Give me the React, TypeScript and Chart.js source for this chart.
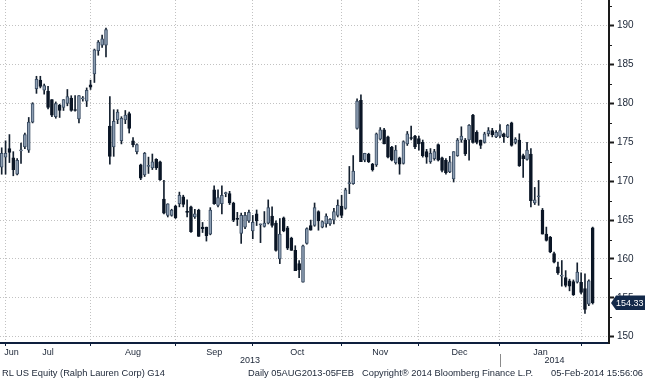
import React, { useEffect, useRef } from "react";
import { Chart, registerables } from "chart.js";
Chart.register(...registerables);

// Daily OHLC (trading-day index order)
const opens = [
  171.8,173.1,174.2,173.0,170.9,173.9,174.4,174.0,177.6,181.9,183.0,181.7,181.6,180.5,178.3,179.8,179.5,180.0,180.7,179.2,178.0,180.6,180.3,182.4,183.8,186.8,187.5,187.5,
  177.1,174.4,177.9,175.2,177.9,178.7,175.2,173.8,172.1,170.8,171.9,171.7,172.8,172.5,167.7,165.6,165.6,166.8,167.1,168.0,166.1,166.7,165.4,166.3,164.1,164.1,
  163.2,168.9,166.9,167.1,168.4,168.4,167.2,165.2,163.3,164.1,164.9,163.6,165.8,164.4,164.2,164.6,165.5,164.6,160.0,165.3,164.0,162.7,161.1,159.4,157.0,162.0,
  164.3,164.3,166.1,164.1,164.5,164.5,165.0,165.6,166.8,166.5,169.7,169.7,176.8,180.4,172.7,173.5,172.2,172.1,175.4,176.6,175.7,174.4,172.4,173.0,172.3,174.8,
  175.6,175.8,175.5,175.0,173.8,172.5,172.9,174.7,173.0,172.7,171.2,170.3,173.3,175.3,175.3,175.3,178.5,176.3,175.3,175.0,176.1,176.5,175.7,175.8,176.1,175.7,
  177.5,175.0,175.3,173.3,172.8,173.5,167.2,168.0,166.3,163.2,162.8,160.7,159.0,157.8,157.6,157.2,157.1,157.0,157.0,156.2,154.2,164.0
];
const highs = [
  174.3,175.2,176.0,173.8,172.9,174.9,176.2,178.2,180.1,183.5,183.5,182.5,182.2,180.5,180.2,179.9,180.5,181.8,181.0,181.0,181.0,180.9,182.0,183.0,187.0,188.1,188.8,189.7,
  180.9,179.2,179.2,178.3,179.1,178.9,175.6,174.8,172.2,173.7,173.1,173.5,172.9,172.6,170.1,167.1,166.4,166.9,168.6,168.2,167.6,166.8,166.4,166.4,164.7,164.1,
  166.6,169.4,168.9,169.4,168.6,168.7,167.3,166.0,165.9,166.0,166.3,165.6,166.3,164.5,166.1,167.6,166.7,164.9,165.2,165.4,164.2,162.8,161.7,159.8,161.8,164.0,
  165.0,167.2,166.2,164.9,165.8,165.2,166.5,167.6,168.2,169.1,171.9,173.3,180.6,181.1,173.6,173.6,172.3,176.2,176.9,176.8,175.8,174.5,174.6,173.1,175.2,176.4,
  177.1,175.9,175.8,175.3,174.1,174.2,174.1,174.8,173.1,172.9,173.2,173.8,175.5,177.0,175.5,177.3,178.6,176.5,175.3,176.3,176.9,176.8,176.5,177.3,176.2,177.3,
  177.6,175.6,176.1,173.5,175.0,174.2,169.2,170.1,166.5,164.1,162.9,160.9,159.6,159.8,158.5,157.4,157.3,159.5,158.2,158.1,157.3,164.1
];
const lows = [
  170.9,170.9,172.4,170.7,170.8,172.3,174.2,173.7,177.5,181.3,182.0,181.2,179.3,178.3,178.1,178.2,179.1,179.7,179.0,179.0,177.5,180.3,179.6,181.8,182.7,186.2,187.2,186.0,
  172.2,173.2,177.4,174.8,177.4,176.2,174.4,173.5,170.2,170.6,171.0,171.5,171.5,170.1,165.8,165.4,165.5,165.2,166.7,166.7,165.4,163.4,165.2,162.9,163.4,162.3,
  163.1,167.0,166.7,165.8,168.0,167.0,164.8,164.3,162.0,163.9,164.7,162.6,164.3,162.1,164.1,164.5,164.1,161.0,159.4,163.5,161.2,161.1,158.5,157.6,157.0,161.9,
  163.7,164.2,163.7,164.0,164.1,164.3,164.5,165.4,165.3,166.4,168.4,169.6,176.7,172.5,172.5,172.4,171.3,171.9,175.3,174.8,173.0,172.6,172.2,170.9,172.2,174.6,
  175.3,174.2,174.0,173.1,172.3,172.3,172.7,172.6,171.2,170.9,171.1,169.9,173.2,175.0,173.3,172.7,174.9,174.8,174.2,174.9,175.8,175.7,175.6,175.6,175.0,175.6,
  174.5,174.8,171.9,170.5,172.7,166.7,167.0,166.9,163.2,162.3,160.8,159.5,158.0,156.5,156.4,155.9,155.3,156.9,155.5,153.0,154.0,154.2
];
const closes = [
  173.6,173.6,173.7,171.5,172.7,174.0,176.0,177.6,180.0,183.1,182.2,182.3,179.5,178.5,180.0,179.1,180.5,180.9,179.1,179.1,181.0,180.7,181.7,182.1,186.9,187.9,188.3,189.5,
  173.2,177.7,178.9,178.1,178.5,176.8,174.7,174.7,170.4,173.6,171.9,172.5,171.7,170.2,165.9,167.1,166.3,165.3,168.2,167.0,166.0,163.5,165.8,162.9,163.9,163.0,
  166.3,167.1,167.9,168.2,168.4,167.2,165.0,165.1,165.6,165.6,166.0,164.7,164.9,164.4,164.6,166.6,164.3,161.1,163.2,163.6,161.4,161.1,158.5,158.6,161.7,163.9,
  163.7,166.6,164.9,164.8,165.5,165.1,166.1,166.9,165.6,168.9,169.8,171.3,180.3,172.5,173.6,172.5,171.5,176.1,176.6,174.8,173.1,172.7,174.0,172.2,175.1,176.1,
  175.5,174.4,174.8,173.3,173.1,173.6,173.8,172.7,171.4,171.1,172.5,173.8,175.3,175.8,173.5,177.2,175.0,175.0,174.6,176.1,176.5,176.0,176.3,176.5,175.7,177.2,
  174.6,175.4,172.0,172.9,174.0,167.5,167.6,168.0,163.2,162.4,160.9,159.6,158.2,157.8,156.6,156.5,155.4,158.3,155.7,153.5,157.2,154.33
];

// Axis content
const monthBoundaryDays = [1, 23, 45, 65, 88, 108, 129, 150];
const monthLabels = ["Jun", "Jul", "Aug", "Sep", "Oct", "Nov", "Dec", "Jan"];
const monthLabelDays = [2.55, 12, 34, 55, 76.5, 98, 118.5, 139.5];
const yearLabels = ["2013", "2014"];
const yearBoundaryDay = 129;
const priceTicks = [150, 155, 160, 165, 170, 175, 180, 185, 190];
const lastPrice = 154.33;
const footerTexts = [
  "RL US Equity (Ralph Lauren Corp) G14",
  "Daily 05AUG2013-05FEB",
  "Copyright\u00AE 2014 Bloomberg Finance L.P.",
  "05-Feb-2014 15:56:06",
];

const UP_FILL = "#8d9eb2";
const UP_EDGE = "#3a4c63";
const DOWN_FILL = "#0b1626";
const WICK = "#14202f";
const GRID = "#c2c2c2";
const TEXT = "#1b2536";
const FONT = "'Liberation Sans', Arial, sans-serif";

export default function App() {
  const ref = useRef<HTMLCanvasElement>(null);

  useEffect(() => {
    if (!ref.current) return;
    const idx = closes.map((_, i) => i);
    const bodies = idx.map((i) => ({ x: i, y: [opens[i], closes[i]] }));
    const wicks = idx.map((i) => ({ x: i, y: [lows[i], highs[i]] }));
    const isUp = (i: number) => closes[i] >= opens[i];
    const boundarySet = new Set(monthBoundaryDays);
    const labelMap = new Map<number, string>();
    monthLabelDays.forEach((d, k) => labelMap.set(d, monthLabels[k]));

    const extras = {
      id: "extras",
      afterDraw(chart: any) {
        const { ctx, chartArea, scales } = chart;
        const xs = scales.x;
        const ys = scales.y;
        ctx.save();
        // minor ticks on price axis
        ctx.strokeStyle = "#1a1a1a";
        ctx.lineWidth = 1;
        for (let k = 0; k < priceTicks.length + 1; k++) {
          const v = priceTicks[0] - 2.5 + k * 5;
          const y = Math.round(ys.getPixelForValue(v)) + 0.5;
          if (y < chartArea.top || y > chartArea.bottom) continue;
          ctx.beginPath();
          ctx.moveTo(chartArea.right, y);
          ctx.lineTo(chartArea.right + 3, y);
          ctx.stroke();
        }
        // year labels
        const bx = xs.getPixelForValue(yearBoundaryDay);
        ctx.fillStyle = TEXT;
        ctx.font = `9px ${FONT}`;
        ctx.textAlign = "center";
        ctx.textBaseline = "middle";
        ctx.fillText(yearLabels[0], (chartArea.left + bx) / 2, 361);
        ctx.fillText(yearLabels[1], (bx + chartArea.right) / 2, 361);
        // year separator
        ctx.strokeStyle = "#8a8a8a";
        ctx.beginPath();
        ctx.moveTo(Math.round(bx) + 0.5, 354);
        ctx.lineTo(Math.round(bx) + 0.5, 367);
        ctx.stroke();
        // last price tag
        const py = ys.getPixelForValue(lastPrice);
        const x0 = chartArea.right + 2;
        ctx.fillStyle = "#13294a";
        ctx.beginPath();
        ctx.moveTo(x0, py);
        ctx.lineTo(x0 + 5, py - 7.5);
        ctx.lineTo(645, py - 7.5);
        ctx.lineTo(645, py + 7);
        ctx.lineTo(x0 + 5, py + 7);
        ctx.closePath();
        ctx.fill();
        ctx.fillStyle = "#ffffff";
        ctx.font = `9px ${FONT}`;
        ctx.textAlign = "left";
        ctx.fillText(lastPrice.toFixed(2), x0 + 5, py + 0.5);
        ctx.restore();
      },
    };

    const chart = new Chart(ref.current, {
      type: "bar",
      data: {
        datasets: [
          {
            data: bodies as any,
            grouped: false,
            barThickness: 3,
            minBarLength: 1,
            borderSkipped: false,
            borderWidth: 1,
            backgroundColor: (c: any) => (isUp(c.dataIndex) ? UP_FILL : DOWN_FILL),
            borderColor: (c: any) => (isUp(c.dataIndex) ? UP_EDGE : DOWN_FILL),
          } as any,
          {
            data: wicks as any,
            grouped: false,
            barThickness: 1,
            borderWidth: 0,
            backgroundColor: WICK,
          } as any,
        ],
      },
      options: {
        animation: false,
        responsive: false,
        devicePixelRatio: 1,
        layout: { padding: 0 },
        plugins: { legend: { display: false }, tooltip: { enabled: false }, title: { display: false } },
        scales: {
          x: {
            type: "linear",
            min: -0.44,
            max: 157.22,
            offset: false,
            afterBuildTicks: (s: any) => {
              const t = [...monthBoundaryDays, ...monthLabelDays].sort((a, b) => a - b);
              s.ticks = t.map((v) => ({ value: v }));
            },
            afterFit: (s: any) => {
              s.height = 37;
              s.paddingLeft = 0;
              s.paddingRight = 0;
            },
            grid: {
              offset: false,
              color: (c: any) => (c.tick && boundarySet.has(c.tick.value) ? GRID : "rgba(0,0,0,0)"),
              tickColor: (c: any) => (c.tick && boundarySet.has(c.tick.value) ? "#0e1f3d" : "rgba(0,0,0,0)"),
              tickLength: 3,
              tickWidth: 1,
              tickBorderDash: [],
            },
            border: { display: true, color: "#0e1f3d", width: 2, dash: [1, 2] },
            ticks: {
              autoSkip: false,
              maxRotation: 0,
              padding: 1,
              color: TEXT,
              font: { family: FONT, size: 9 },
              callback: (v: any) => labelMap.get(v) ?? "",
            },
          } as any,
          y: {
            type: "linear",
            position: "right",
            min: 149.19,
            max: 193.31,
            beginAtZero: false,
            afterBuildTicks: (s: any) => {
              s.ticks = priceTicks.map((v) => ({ value: v }));
            },
            afterFit: (s: any) => {
              s.width = 36;
              s.paddingTop = 0;
              s.paddingBottom = 0;
            },
            grid: {
              color: GRID,
              lineWidth: 1,
              tickLength: 5,
              tickWidth: 2,
              tickColor: "#1a1a1a",
              tickBorderDash: [],
            },
            border: { display: true, color: "#1a1a1a", width: 2, dash: [1, 2] },
            ticks: {
              padding: 3,
              color: TEXT,
              font: { family: FONT, size: 10 },
            },
          } as any,
        },
      },
      plugins: [extras],
    });
    return () => chart.destroy();
  }, []);

  const footStyle: React.CSSProperties = {
    position: "absolute",
    top: 367,
    fontFamily: FONT,
    fontSize: "9.3px",
    lineHeight: "12px",
    color: TEXT,
    whiteSpace: "nowrap",
  };

  return (
    <div style={{ position: "absolute", left: 0, top: 0, width: 645, height: 380, background: "#fff", overflow: "hidden" }}>
      <canvas ref={ref} width={645} height={380} style={{ display: "block", width: 645, height: 380 }} />
      <span style={{ ...footStyle, left: 2 }}>{footerTexts[0]}</span>
      <span style={{ ...footStyle, left: 248 }}>{footerTexts[1]}</span>
      <span style={{ ...footStyle, left: 362 }}>{footerTexts[2]}</span>
      <span style={{ ...footStyle, right: 2 }}>{footerTexts[3]}</span>
    </div>
  );
}
